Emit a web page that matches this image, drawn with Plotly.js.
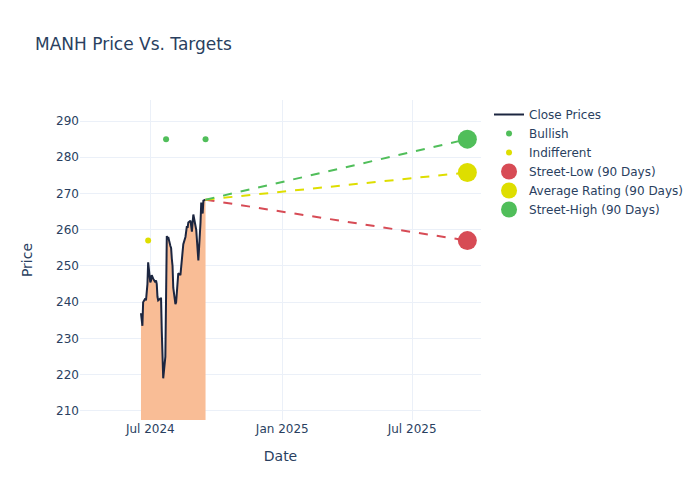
<!DOCTYPE html>
<html>
<head>
<meta charset="utf-8">
<script src="https://cdn.plot.ly/plotly-3.0.1.min.js"></script>
<style>html,body{margin:0;padding:0;background:#fff}</style>
</head>
<body>
<div id="chart" style="width:700px;height:500px"></div>
<script>
const dates = [
  "2024-06-18","2024-06-20","2024-06-21","2024-06-24","2024-06-25","2024-06-26","2024-06-27","2024-06-28",
  "2024-07-01","2024-07-02","2024-07-03","2024-07-05","2024-07-08","2024-07-09","2024-07-10","2024-07-11","2024-07-12",
  "2024-07-15","2024-07-16","2024-07-17","2024-07-18","2024-07-19","2024-07-22","2024-07-23","2024-07-24","2024-07-25","2024-07-26",
  "2024-07-29","2024-07-30","2024-07-31","2024-08-01","2024-08-02","2024-08-05","2024-08-06","2024-08-07","2024-08-08","2024-08-09",
  "2024-08-12","2024-08-13","2024-08-14","2024-08-15","2024-08-16","2024-08-19","2024-08-20","2024-08-21","2024-08-22","2024-08-23",
  "2024-08-26","2024-08-27","2024-08-28","2024-08-29","2024-08-30","2024-09-03","2024-09-04","2024-09-05","2024-09-06",
  "2024-09-09","2024-09-10","2024-09-11","2024-09-12","2024-09-13","2024-09-16"
];
const closes = [
  237.0,233.5,240.0,241.0,240.5,242.0,245.0,251.0,
  245.5,246.0,247.5,246.5,245.5,246.0,245.0,241.5,240.5,
  241.0,241.0,232.0,222.0,219.0,225.0,240.0,258.3,257.5,258.0,
  255.5,255.0,252.0,250.0,244.0,239.5,240.0,244.0,247.5,248.0,
  247.5,250.0,252.0,254.5,256.0,258.0,259.5,261.0,260.5,262.0,
  262.5,261.0,259.5,262.0,264.2,260.0,256.0,254.0,251.5,
  262.0,267.5,265.0,264.5,268.0,268.3
];
const bullishDates = ["2024-07-23","2024-09-16"];
const bullishValues = [285, 285];
const indifferentDates = ["2024-06-28"];
const indifferentValues = [257];
const targetDate = "2025-09-16";
const streetLow = 257;
const averageRating = 275.8;
const streetHigh = 285;

const lastDate = dates[dates.length - 1];
const lastClose = closes[closes.length - 1];
const GREEN = "rgb(80,190,90)";
const YELLOW = "rgb(222,222,0)";
const RED = "rgb(215,75,85)";

const traces = [
  {x: dates, y: closes, type: "scatter", mode: "lines", fill: "tozeroy",
   fillcolor: "rgba(249,189,150,1)", line: {width: 0, color: "rgba(0,0,0,0)"},
   showlegend: false, hoverinfo: "skip"},
  {x: dates, y: closes, type: "scatter", mode: "lines", name: "Close Prices",
   line: {color: "#1c2640", width: 2}},
  {x: bullishDates, y: bullishValues, type: "scatter", mode: "markers", name: "Bullish",
   marker: {color: GREEN, size: 6}},
  {x: indifferentDates, y: indifferentValues, type: "scatter", mode: "markers", name: "Indifferent",
   marker: {color: YELLOW, size: 6}},
  {x: [lastDate, targetDate], y: [lastClose, streetLow], type: "scatter", mode: "lines",
   line: {color: RED, width: 2, dash: "dash"}, showlegend: false},
  {x: [lastDate, targetDate], y: [lastClose, averageRating], type: "scatter", mode: "lines",
   line: {color: YELLOW, width: 2, dash: "dash"}, showlegend: false},
  {x: [lastDate, targetDate], y: [lastClose, streetHigh], type: "scatter", mode: "lines",
   line: {color: GREEN, width: 2, dash: "dash"}, showlegend: false},
  {x: [targetDate], y: [streetLow], type: "scatter", mode: "markers", name: "Street-Low (90 Days)",
   marker: {color: RED, size: 19}},
  {x: [targetDate], y: [averageRating], type: "scatter", mode: "markers", name: "Average Rating (90 Days)",
   marker: {color: YELLOW, size: 19}},
  {x: [targetDate], y: [streetHigh], type: "scatter", mode: "markers", name: "Street-High (90 Days)",
   marker: {color: GREEN, size: 19}}
];

const layout = {
  width: 700, height: 500,
  title: {text: "MANH Price Vs. Targets", x: 0.05, xanchor: "left", font: {size: 17}},
  margin: {l: 80, r: 219, t: 100, b: 80},
  paper_bgcolor: "#fff", plot_bgcolor: "#fff",
  font: {family: "DejaVu Sans, sans-serif", color: "#2a3f5f"},
  xaxis: {title: {text: "Date", standoff: 16}, automargin: true, type: "date", range: ["2024-03-25", "2025-10-05"],
          gridcolor: "#ebf0f8", zeroline: false, tickformat: "%b %Y",
          tickvals: ["2024-07-01", "2025-01-01", "2025-07-01"]},
  yaxis: {title: {text: "Price", standoff: 20}, automargin: true, range: [207.5, 295.8], gridcolor: "#ebf0f8",
          zeroline: false, dtick: 10},
  legend: {x: 1.02, y: 1, font: {size: 12}},
  hovermode: "closest"
};

Plotly.newPlot("chart", traces, layout, {displayModeBar: false});
</script>
</body>
</html>
